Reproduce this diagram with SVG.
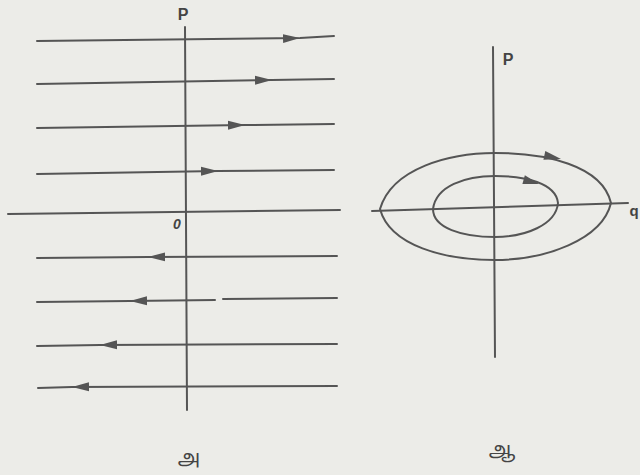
<svg xmlns="http://www.w3.org/2000/svg" width="640" height="475" viewBox="0 0 640 475">
<style>
.ln{stroke:#555;stroke-width:2;fill:none;stroke-linecap:round}
.tx{font-family:"Liberation Sans","DejaVu Sans",sans-serif;font-weight:bold;fill:#444}
.ta{font-family:"Noto Sans Tamil","Noto Sans","DejaVu Sans",sans-serif;fill:#444}
</style>
<defs>
<marker id="ah" viewBox="-17 -5 18 10" refX="0" refY="0" markerWidth="18" markerHeight="10" markerUnits="userSpaceOnUse" orient="auto">
<path d="M0,0 L-17,-4.5 L-17,4.5 Z" fill="#555"/>
</marker>
</defs>
<rect width="640" height="475" fill="#ecece8"/>
<g id="left-axes">
<path class="ln" d="M185,27 L187,410"/>
<path class="ln" d="M8,214 L340,210"/>
<text class="tx" x="183" y="20" font-size="16" text-anchor="middle">P</text>
<text class="tx" x="177" y="229" font-size="14" font-style="italic" text-anchor="middle">0</text>
</g>
<g id="connectors">
<path class="ln" marker-mid="url(#ah)" d="M37,41 L300,38 L334,36"/>
<path class="ln" marker-mid="url(#ah)" d="M37,84 L272,80 L334,79"/>
<path class="ln" marker-mid="url(#ah)" d="M37,128 L245,125 L334,124"/>
<path class="ln" marker-mid="url(#ah)" d="M37,174 L218,171 L334,170"/>
<path class="ln" marker-mid="url(#ah)" d="M337,256 L148,257 L37,258"/>
<path class="ln" marker-mid="url(#ah)" d="M215,300 L130,301 L37,302"/>
<path class="ln" d="M223,299 L337,298"/>
<path class="ln" marker-mid="url(#ah)" d="M337,344 L100,345 L37,346"/>
<path class="ln" marker-mid="url(#ah)" d="M337,386 L72,387 L38,388"/>
</g>
<g id="right-axes">
<path class="ln" d="M493,47 L495,357"/>
<path class="ln" d="M372,211 L628,203"/>
<text class="tx" x="508" y="65" font-size="16" text-anchor="middle">P</text>
<text class="tx" x="634" y="216" font-size="15" text-anchor="middle">q</text>
</g>
<g id="orbits">
<path class="ln" d="M380,209 C392,168 450,153 495,153 C545,153 602,165 611,203 C602,240 545,260 495,260 C445,260 390,246 380,209 Z"/>
<path class="ln" d="M433,209 C436,186 465,176 495,176 C525,176 556,183 558,203 C556,225 525,237 495,237 C462,237 433,228 433,209 Z"/>
<path d="M0,0 L-17,-4.5 L-17,4.5 Z" fill="#555" transform="translate(561,159) rotate(12)"/>
<path d="M0,0 L-16,-4.5 L-16,4.5 Z" fill="#555" transform="translate(539,184) rotate(16)"/>
</g>
<g id="labels">
<text class="ta" x="189" y="464" font-size="20" text-anchor="middle">அ</text>
<text class="ta" x="502" y="456" font-size="20" text-anchor="middle">ஆ</text>
</g>
</svg>
